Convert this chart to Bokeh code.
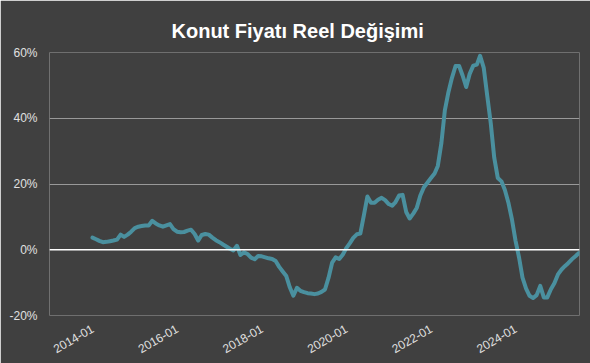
import pandas as pd
from math import pi
from bokeh.plotting import figure
from bokeh.models import Range1d, FixedTicker, PrintfTickFormatter, DatetimeTickFormatter, Span
from bokeh.embed import file_html
from bokeh.resources import INLINE

title_text = "Konut Fiyatı Reel Değişimi"
start_month = "2014-01"
values = [
    3.7, 3.2, 2.7, 2.3, 2.4, 2.6, 2.8, 3.1, 4.6, 3.9,
    4.6, 5.5, 6.6, 7.0, 7.2, 7.4, 7.4, 8.8, 8.0, 7.4,
    7.0, 7.4, 7.8, 6.3, 5.5, 5.3, 5.4, 5.8, 6.1, 4.8,
    2.8, 4.5, 4.8, 4.6, 3.7, 2.9, 2.3, 1.6, 1.0, 0.3,
    -0.2, 1.2, -1.6, -0.8, -1.3, -2.4, -2.9, -1.9, -2.0, -2.3,
    -2.6, -2.8, -3.4, -5.2, -6.6, -8.0, -11.5, -14.0, -11.6, -12.5,
    -12.9, -13.2, -13.3, -13.5, -13.3, -12.8, -12.1, -8.5, -3.9, -2.3,
    -2.8, -1.5, 0.5, 2.0, 3.6, 4.7, 4.9, 10.5, 16.2, 14.3,
    14.3, 15.2, 15.8, 15.1, 13.9, 13.4, 14.5, 16.5, 16.7, 11.5,
    9.5, 11.0, 12.8, 16.5, 19.0, 20.4, 21.8, 23.2, 25.5, 32.5,
    42.5, 48.0, 52.3, 55.9, 55.9, 53.0, 49.5, 53.5, 56.0, 56.3,
    59.0, 55.4, 47.0, 38.5, 28.0, 21.8, 20.8, 18.2, 14.2, 9.2,
    2.7, -2.5, -8.5, -11.8, -14.0, -14.7, -13.8, -11.0, -14.5, -14.5,
    -12.0, -10.2, -7.5, -6.0, -5.0, -4.0, -2.9, -2.0, -1.0,
]
tick_labels = ["2014-01", "2016-01", "2018-01", "2020-01", "2022-01", "2024-01"]
y_ticks = [-20, 0, 20, 40, 60]

dates = pd.date_range(start_month + "-01", periods=len(values), freq="MS")
tick_ms = [pd.Timestamp(t + "-01").timestamp() * 1000 for t in tick_labels]

BG = "#404040"
LABEL = "#e0e0e0"
FONT = "Liberation Sans"

p = figure(width=590, height=363, output_backend="svg", toolbar_location=None,
           x_axis_type="datetime",
           x_range=Range1d(pd.Timestamp("2012-12-26"), pd.Timestamp("2025-07-06")),
           y_range=Range1d(-20, 60),
           min_border_left=49, min_border_right=11, min_border_top=52, min_border_bottom=48,
           background_fill_color=BG, border_fill_color=BG, outline_line_color=None)

p.title.text = title_text
p.title.text_font = FONT
p.title.text_font_size = "20px"
p.title.text_font_style = "bold"
p.title.text_color = "white"
p.title.align = "left"
p.title.offset = 122
p.title.standoff = 21

p.xgrid.grid_line_color = None
p.ygrid.grid_line_color = "#999999"
p.ygrid.grid_line_width = 1

yax = p.yaxis[0]
yax.ticker = FixedTicker(ticks=y_ticks)
yax.formatter = PrintfTickFormatter(format="%d%%")
yax.axis_line_color = None
yax.major_tick_line_color = None
yax.minor_tick_line_color = None
yax.major_label_text_color = LABEL
yax.major_label_text_font = FONT
yax.major_label_text_font_size = "12px"
yax.major_label_standoff = 6

xax = p.xaxis[0]
xax.ticker = FixedTicker(ticks=tick_ms)
fmt = "%Y-%m"
xax.formatter = DatetimeTickFormatter(milliseconds=fmt, seconds=fmt, minsec=fmt, minutes=fmt,
                                      hourmin=fmt, hours=fmt, days=fmt, months=fmt, years=fmt)
xax.axis_line_color = None
xax.major_tick_line_color = None
xax.minor_tick_line_color = None
xax.major_label_text_color = LABEL
xax.major_label_text_font = FONT
xax.major_label_text_font_size = "12px"
xax.major_label_orientation = pi / 6
xax.major_label_standoff = 6

p.add_layout(Span(location=0, dimension="width", line_color="white", line_width=1.5))

p.line(dates, values, line_color="#4a909f", line_width=4, line_join="round", line_cap="round")

open("out.html", "w").write(file_html(p, INLINE))
